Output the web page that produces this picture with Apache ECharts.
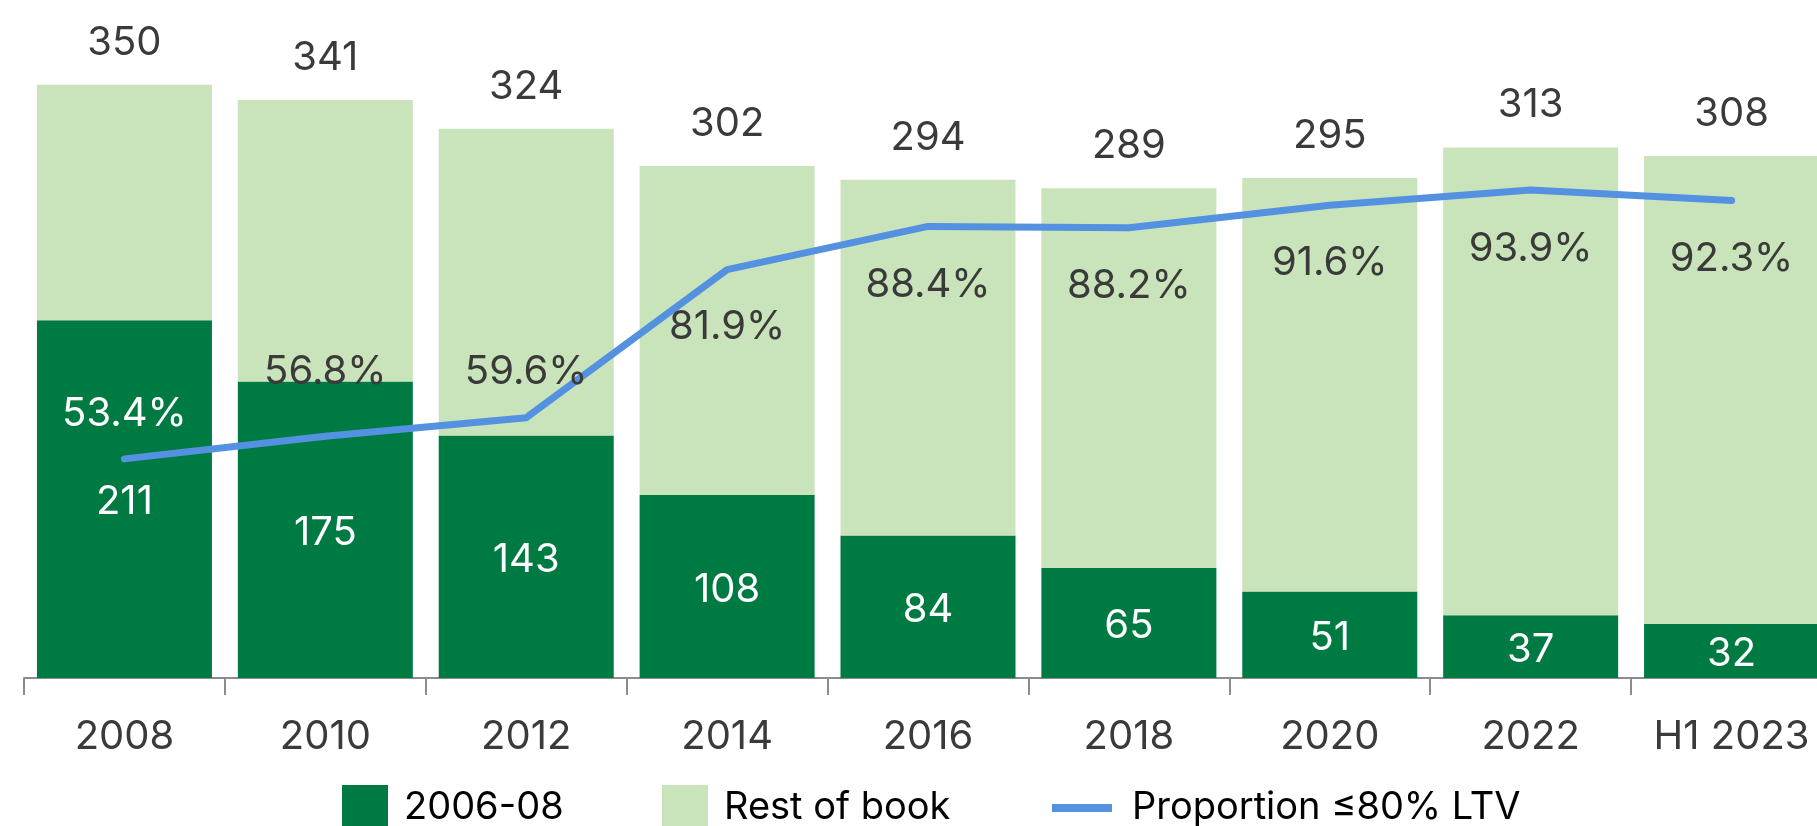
<!DOCTYPE html>
<html>
<head>
<meta charset="utf-8">
<script src="https://cdn.jsdelivr.net/npm/echarts@6/dist/echarts.min.js"></script>
<style>
  html, body { margin: 0; padding: 0; background: #ffffff; overflow: hidden; width: 1817px; height: 826px; }
  #chart { width: 1840px; height: 826px; }
</style>
</head>
<body>
<div id="chart"></div>
<script>
// ---- data ----
const categories = ['2008', '2010', '2012', '2014', '2016', '2018', '2020', '2022', 'H1 2023'];
const totalBook = [350, 341, 324, 302, 294, 289, 295, 313, 308];
const legacy0608 = [211, 175, 143, 108, 84, 65, 51, 37, 32];
const ltvShare = [53.4, 56.8, 59.6, 81.9, 88.4, 88.2, 91.6, 93.9, 92.3];
const seriesNames = ['2006-08', 'Rest of book', 'Proportion ≤80% LTV'];

// ---- styling (not data) ----
const FONT = 'Inter, "Noto Sans", sans-serif';
const FS = 40;
const DARK = '#007A43';
const LIGHT = '#C9E3BA';
const LINE = '#5591E1';
const TEXT = '#3a3a3a';
const ltvLabelDy = [-45, -64, -46, 57, 59, 58, 58, 59, 58];
const ltvLabelColor = ['#ffffff', TEXT, TEXT, TEXT, TEXT, TEXT, TEXT, TEXT, TEXT];

const restOfBook = totalBook.map((t, i) => t - legacy0608[i]);

const ltvData = ltvShare.map((v, i) => ({
  value: v,
  label: { offset: [0, ltvLabelDy[i]], color: ltvLabelColor[i] }
}));

const chart = echarts.init(document.getElementById('chart'), null, { renderer: 'canvas' });

const legendBase = {
  orient: 'horizontal',
  top: 785,
  padding: 0,
  selectedMode: false,
  textStyle: { fontFamily: FONT, fontSize: 38, color: '#000', lineHeight: 46 }
};

chart.setOption({
  animation: false,
  backgroundColor: '#ffffff',
  grid: { left: 24, top: 0, width: 1808, height: 678, containLabel: false },
  legend: [
    Object.assign({}, legendBase, {
      left: 342, data: [seriesNames[0]], icon: 'rect', itemWidth: 46, itemHeight: 46,
      textStyle: Object.assign({}, legendBase.textStyle, { padding: [0, 0, 0, 11] })
    }),
    Object.assign({}, legendBase, {
      left: 662, data: [seriesNames[1]], icon: 'rect', itemWidth: 46, itemHeight: 46,
      textStyle: Object.assign({}, legendBase.textStyle, { padding: [0, 0, 0, 11] })
    }),
    Object.assign({}, legendBase, {
      left: 1052, data: [seriesNames[2]], icon: 'rect', itemWidth: 60, itemHeight: 8,
      textStyle: Object.assign({}, legendBase.textStyle, { padding: [0, 0, 0, 15] })
    })
  ],
  xAxis: {
    type: 'category',
    data: categories,
    boundaryGap: true,
    axisLine: { show: true, lineStyle: { color: '#8c8c8c', width: 2 } },
    axisTick: { show: true, interval: 0, length: 17, lineStyle: { color: '#8c8c8c', width: 2 } },
    axisLabel: { interval: 0, fontFamily: FONT, fontSize: FS, color: TEXT, margin: 39, lineHeight: 40 }
  },
  yAxis: [
    { type: 'value', min: 0, max: 400, show: false, splitLine: { show: false } },
    { type: 'value', min: 20.4, max: 122.5, show: false, splitLine: { show: false } }
  ],
  series: [
    {
      name: seriesNames[0],
      type: 'bar',
      stack: 'book',
      data: legacy0608,
      barWidth: 175,
      itemStyle: { color: DARK },
      label: {
        show: true, position: 'inside', offset: [0, 3], color: '#ffffff',
        fontFamily: FONT, fontSize: FS
      },
      z: 2
    },
    {
      name: seriesNames[1],
      type: 'bar',
      stack: 'book',
      data: restOfBook,
      barWidth: 175,
      itemStyle: { color: LIGHT },
      label: {
        show: true, position: 'top', distance: 22, color: TEXT,
        fontFamily: FONT, fontSize: FS, lineHeight: 40,
        formatter: p => String(totalBook[p.dataIndex])
      },
      z: 2
    },
    {
      name: seriesNames[2],
      type: 'line',
      yAxisIndex: 1,
      data: ltvData,
      symbol: 'circle',
      symbolSize: 1,
      showSymbol: true,
      itemStyle: { color: LINE },
      lineStyle: { color: LINE, width: 7, cap: 'round', join: 'round' },
      label: {
        show: true, position: 'inside',
        fontFamily: FONT, fontSize: FS, lineHeight: 40,
        formatter: p => p.value.toFixed(1) + '%'
      },
      z: 5
    }
  ]
});
</script>
</body>
</html>
